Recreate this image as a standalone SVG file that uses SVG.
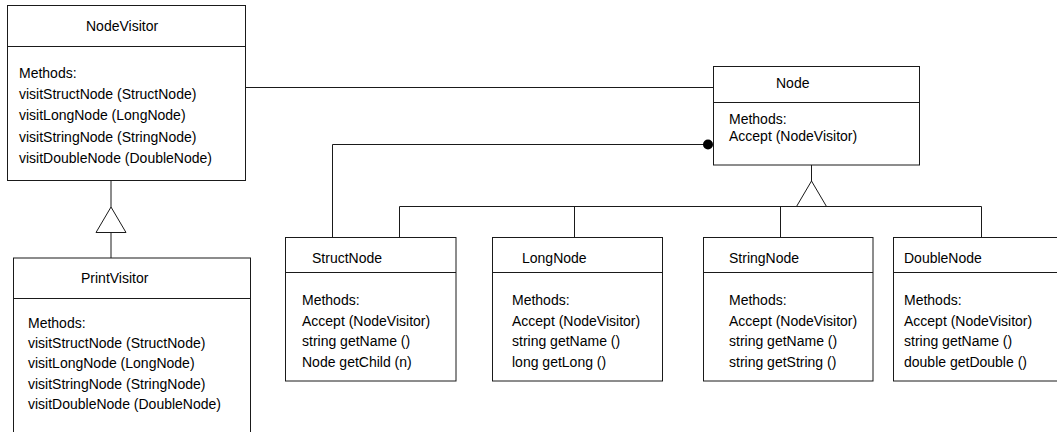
<svg xmlns="http://www.w3.org/2000/svg" width="1057" height="432" viewBox="0 0 1057 432">
  <style>
    .box { fill: #fff; stroke: #1a1a1a; stroke-width: 1; }
    .ln { fill: none; stroke: #1a1a1a; stroke-width: 1; }
    .tri { fill: #fff; stroke: #1a1a1a; stroke-width: 1; }
    text { font-family: "Liberation Sans", Arial, sans-serif; font-size: 14px; fill: #000; }
  </style>
  <rect width="1057" height="432" fill="#fff"/>
  <g id="connectors">
    <!-- NodeVisitor to Node association -->
    <line class="ln" x1="245.5" y1="87.5" x2="713.5" y2="87.5"/>
    <!-- StructNode to Node with dot -->
    <polyline class="ln" points="332.5,237 332.5,144.5 708,144.5"/>
    <circle cx="708" cy="144.5" r="5" fill="#000"/>
    <!-- Node inheritance -->
    <line class="ln" x1="811.5" y1="165" x2="811.5" y2="181"/>
    <polygon class="tri" points="811.5,181 796.5,206.5 826.5,206.5"/>
    <line class="ln" x1="399.5" y1="206.5" x2="981.5" y2="206.5"/>
    <line class="ln" x1="399.5" y1="206.5" x2="399.5" y2="237"/>
    <line class="ln" x1="574.5" y1="206.5" x2="574.5" y2="237"/>
    <line class="ln" x1="780.5" y1="206.5" x2="780.5" y2="237"/>
    <line class="ln" x1="981.5" y1="206.5" x2="981.5" y2="237" stroke-width="1.5"/>
    <!-- PrintVisitor inheritance -->
    <line class="ln" x1="111" y1="180" x2="111" y2="207"/>
    <polygon class="tri" points="111,207 96,232.5 126,232.5"/>
    <line class="ln" x1="111" y1="232.5" x2="111" y2="258"/>
  </g>
  <g id="NodeVisitor">
    <rect class="box" x="7.5" y="5.5" width="238" height="175"/>
    <line class="ln" x1="7.5" y1="46.5" x2="245.5" y2="46.5"/>
    <text x="86" y="31">NodeVisitor</text>
    <text x="19" y="78">Methods:</text>
    <text x="19" y="99">visitStructNode (StructNode)</text>
    <text x="19" y="120">visitLongNode (LongNode)</text>
    <text x="19" y="141.5">visitStringNode (StringNode)</text>
    <text x="19" y="162.5">visitDoubleNode (DoubleNode)</text>
  </g>
  <g id="PrintVisitor">
    <rect class="box" x="13.5" y="258" width="237" height="190"/>
    <line class="ln" x1="13.5" y1="298.5" x2="250.5" y2="298.5"/>
    <text x="81" y="283">PrintVisitor</text>
    <text x="28" y="328">Methods:</text>
    <text x="28" y="348.2">visitStructNode (StructNode)</text>
    <text x="28" y="368.4">visitLongNode (LongNode)</text>
    <text x="28" y="388.6">visitStringNode (StringNode)</text>
    <text x="28" y="408.8">visitDoubleNode (DoubleNode)</text>
  </g>
  <g id="Node">
    <rect class="box" x="713.5" y="66.5" width="206" height="98.5"/>
    <line class="ln" x1="713.5" y1="102.5" x2="919.5" y2="102.5"/>
    <text x="776" y="88">Node</text>
    <text x="729" y="124">Methods:</text>
    <text x="729" y="141">Accept (NodeVisitor)</text>
  </g>
  <g id="StructNode">
    <rect class="box" x="285.5" y="237.5" width="170.5" height="143.5"/>
    <line class="ln" x1="285.5" y1="272.5" x2="456" y2="272.5"/>
    <text x="312" y="263">StructNode</text>
    <text x="302" y="305">Methods:</text>
    <text x="302" y="325.7">Accept (NodeVisitor)</text>
    <text x="302" y="346.3">string getName ()</text>
    <text x="302" y="367">Node getChild (n)</text>
  </g>
  <g id="LongNode">
    <rect class="box" x="492.5" y="237.5" width="170" height="143.5"/>
    <line class="ln" x1="492.5" y1="272.5" x2="662.5" y2="272.5"/>
    <text x="522" y="263">LongNode</text>
    <text x="512" y="305">Methods:</text>
    <text x="512" y="325.7">Accept (NodeVisitor)</text>
    <text x="512" y="346.3">string getName ()</text>
    <text x="512" y="367">long getLong ()</text>
  </g>
  <g id="StringNode">
    <rect class="box" x="703.5" y="237.5" width="169.5" height="143.5"/>
    <line class="ln" x1="703.5" y1="272.5" x2="873" y2="272.5"/>
    <text x="729" y="263">StringNode</text>
    <text x="729" y="305">Methods:</text>
    <text x="729" y="325.7">Accept (NodeVisitor)</text>
    <text x="729" y="346.3">string getName ()</text>
    <text x="729" y="367">string getString ()</text>
  </g>
  <g id="DoubleNode">
    <rect class="box" x="893.5" y="237.5" width="170" height="143.5"/>
    <line class="ln" x1="893.5" y1="272.5" x2="1063.5" y2="272.5"/>
    <text x="904" y="263">DoubleNode</text>
    <text x="904" y="305">Methods:</text>
    <text x="904" y="325.7">Accept (NodeVisitor)</text>
    <text x="904" y="346.3">string getName ()</text>
    <text x="904" y="367">double getDouble ()</text>
  </g>
</svg>
